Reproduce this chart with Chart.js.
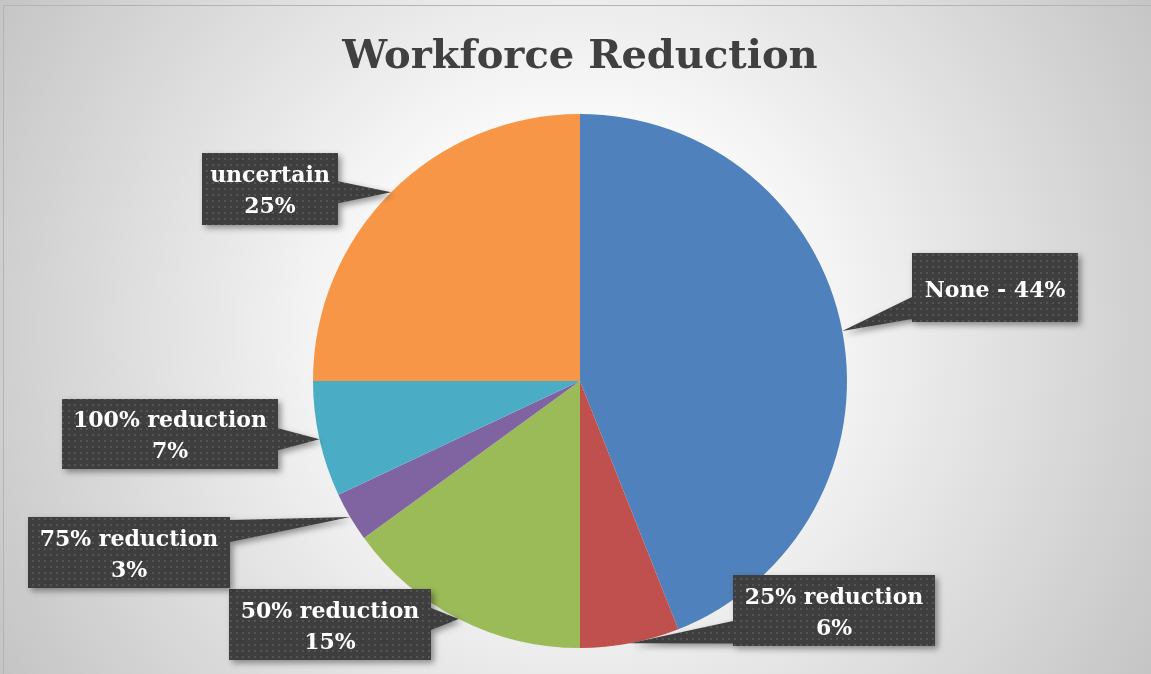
<!DOCTYPE html>
<html>
<head>
<meta charset="UTF-8">
<title>Workforce Reduction</title>
<script src="https://cdn.jsdelivr.net/npm/chart.js@4.4.1/dist/chart.umd.min.js"></script>
<style>
    html, body { margin: 0; padding: 0; background: #fff; }
    #wrap { width: 1151px; height: 674px; }
</style>
</head>
<body>
<div id="wrap"><canvas id="pieChart" width="1151" height="674"></canvas></div>
<script>
// Survey answers, clockwise from 12 o'clock
var categories = ['None', '25% reduction', '50% reduction', '75% reduction', '100% reduction', 'uncertain'];
var shares = [44, 6, 15, 3, 7, 25];
var sliceColors = ['#4f81bd', '#c0504d', '#9bbb59', '#8064a2', '#4bacc6', '#f79646'];
var oneLineLabels = ['None'];

// Callout boxes: left, top, width, height
var calloutBoxes = [
    [912, 253, 166, 69],
    [733, 575, 202, 71],
    [229, 589, 202, 71],
    [28, 517, 202, 71],
    [62, 399, 216, 70],
    [202, 153, 136, 72]
];

// small dotted texture for the callouts
function makeDots() {
    var c = document.createElement('canvas');
    c.width = 6; c.height = 6;
    var g = c.getContext('2d');
    g.fillStyle = '#3e3e3e';
    g.fillRect(0, 0, 6, 6);
    g.fillStyle = '#545454';
    g.fillRect(2, 2, 2, 2);
    return c;
}
var dotTile = makeDots();

var backdrop = {
    id: 'backdrop',
    beforeDraw: function (chart) {
        var ctx = chart.ctx, w = chart.width, h = chart.height;
        ctx.save();
        var grad = ctx.createRadialGradient(578, 330, 0, 578, 330, 690);
        grad.addColorStop(0, '#ffffff');
        grad.addColorStop(0.3, '#fafafa');
        grad.addColorStop(1, '#c2c2c2');
        ctx.fillStyle = grad;
        ctx.fillRect(0, 0, w, h);
        ctx.strokeStyle = '#b4b4b4';
        ctx.lineWidth = 1;
        ctx.strokeRect(3.5, 5.5, w + 10, h + 10);
        ctx.restore();
    }
};

var callouts = {
    id: 'callouts',
    afterDatasetsDraw: function (chart) {
        var ctx = chart.ctx;
        var arcs = chart.getDatasetMeta(0).data;
        var pattern = ctx.createPattern(dotTile, 'repeat');
        arcs.forEach(function (arc, i) {
            var p = arc.getProps(['x', 'y', 'startAngle', 'endAngle', 'outerRadius'], true);
            var mid = (p.startAngle + p.endAngle) / 2;
            var tx = p.x + Math.cos(mid) * p.outerRadius;
            var ty = p.y + Math.sin(mid) * p.outerRadius;
            var b = calloutBoxes[i];
            var l = b[0], t = b[1], r = b[0] + b[2], btm = b[1] + b[3];
            var half = 11, m = 14;
            function clamp(v, a, z) { return Math.max(a, Math.min(z, v)); }

            ctx.save();
            ctx.beginPath();
            ctx.rect(l, t, b[2], b[3]);
            if (tx > r) {
                var cy = clamp(ty, t + m, btm - m);
                ctx.moveTo(r, cy - half); ctx.lineTo(tx, ty); ctx.lineTo(r, cy + half);
            } else if (tx < l) {
                var cy2 = clamp(ty, t + m, btm - m);
                ctx.moveTo(l, cy2 - half); ctx.lineTo(tx, ty); ctx.lineTo(l, cy2 + half);
            } else if (ty > btm) {
                var cx = clamp(tx, l + m, r - m);
                ctx.moveTo(cx - half, btm); ctx.lineTo(tx, ty); ctx.lineTo(cx + half, btm);
            } else {
                var cx2 = clamp(tx, l + m, r - m);
                ctx.moveTo(cx2 - half, t); ctx.lineTo(tx, ty); ctx.lineTo(cx2 + half, t);
            }
            ctx.closePath();
            ctx.shadowColor = 'rgba(0,0,0,0.4)';
            ctx.shadowBlur = 6;
            ctx.shadowOffsetX = 3;
            ctx.shadowOffsetY = 3;
            ctx.fillStyle = pattern;
            ctx.fill('nonzero');
            ctx.restore();

            ctx.save();
            ctx.fillStyle = '#ffffff';
            ctx.font = 'bold 22px "DejaVu Serif"';
            ctx.textAlign = 'center';
            ctx.textBaseline = 'alphabetic';
            var mx = (l + r) / 2, my = (t + btm) / 2;
            var name = chart.data.labels[i];
            var pct = chart.data.datasets[0].data[i] + '%';
            if (oneLineLabels.indexOf(name) >= 0) {
                ctx.fillText(name + ' - ' + pct, mx, my + 9);
            } else {
                ctx.fillText(name, mx, my - 7);
                ctx.fillText(pct, mx, my + 24);
            }
            ctx.restore();
        });
    }
};

new Chart(document.getElementById('pieChart').getContext('2d'), {
    type: 'pie',
    data: {
        labels: categories,
        datasets: [{
            data: shares,
            backgroundColor: sliceColors,
            borderWidth: 0
        }]
    },
    options: {
        responsive: false,
        animation: false,
        layout: { padding: { left: 313, right: 304, top: 0, bottom: 26 } },
        plugins: {
            legend: { display: false },
            tooltip: { enabled: false },
            title: {
                display: true,
                text: 'Workforce Reduction',
                color: '#404040',
                font: { family: '"DejaVu Serif"', size: 40, weight: 'bold', lineHeight: 1.2 },
                padding: { top: 34, bottom: 32 }
            }
        }
    },
    plugins: [backdrop, callouts]
});
</script>
</body>
</html>
